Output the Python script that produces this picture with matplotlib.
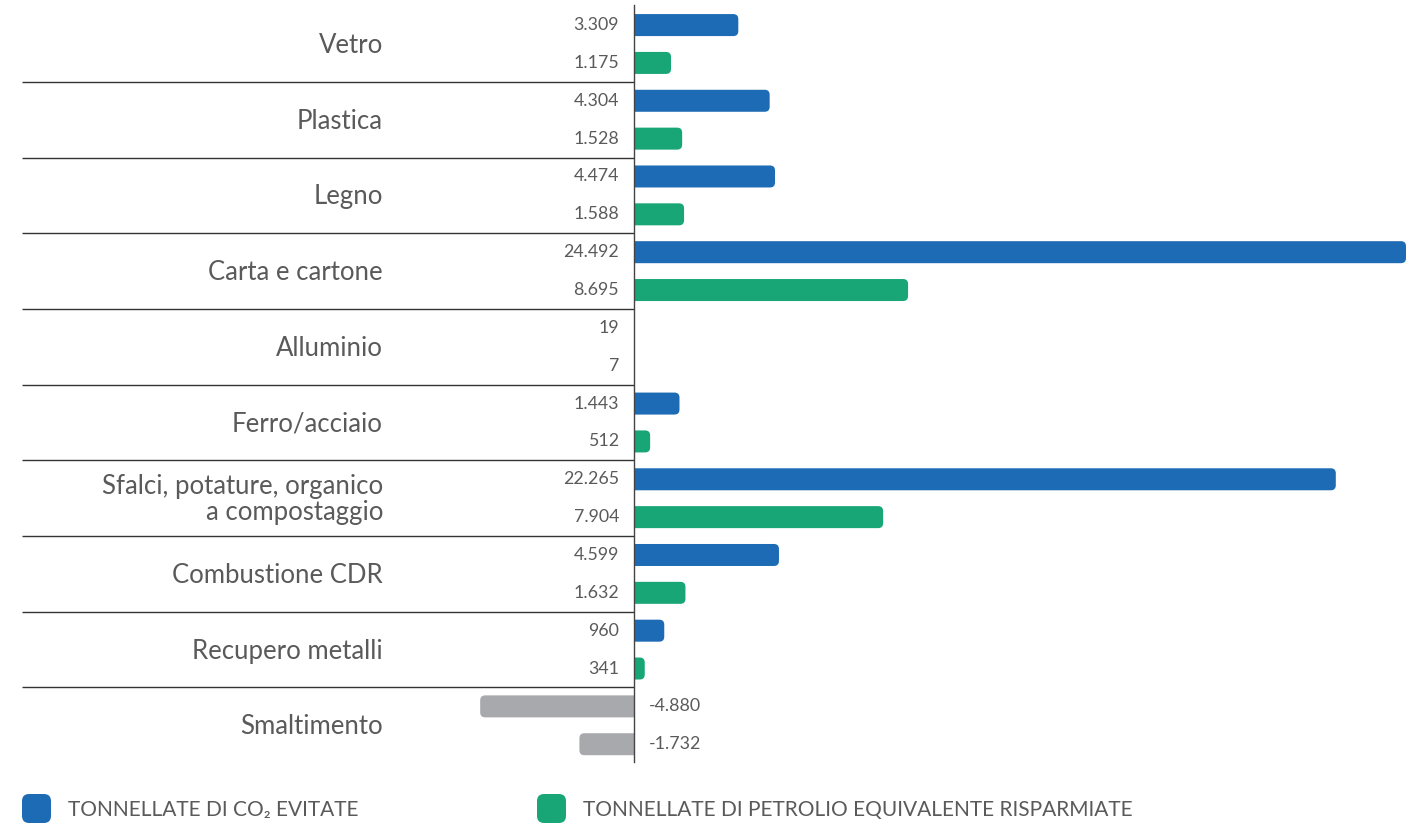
import matplotlib
matplotlib.use("Agg")
import matplotlib.pyplot as plt
from matplotlib.patches import FancyBboxPatch, Rectangle

categories = ["Vetro", "Plastica", "Legno", "Carta e cartone", "Alluminio",
              "Ferro/acciaio", "Sfalci, potature, organico\na compostaggio",
              "Combustione CDR", "Recupero metalli", "Smaltimento"]
co2_avoided = [3309, 4304, 4474, 24492, 19, 1443, 22265, 4599, 960, -4880]
oil_saved = [1175, 1528, 1588, 8695, 7, 512, 7904, 1632, 341, -1732]
legend_labels = ["TONNELLATE DI CO\u2082 EVITATE",
                 "TONNELLATE DI PETROLIO EQUIVALENTE RISPARMIATE"]

BLUE = "#1c6bb4"
GREEN = "#19a677"
GRAY = "#a8a9ac"
TEXT = "#5a5a5a"
W, H = 1423, 825
fig = plt.figure(figsize=(W / 100, H / 100), dpi=100)
ax = fig.add_axes([0, 0, 1, 1])
ax.set_axis_off()

k = 772 / 24492.0          # px per unit
cat_px = 75.7              # px per category
x0_px, y0_px = 634, 44
ax.set_xlim(-x0_px / k, (W - x0_px) / k)
ax.set_ylim((H - y0_px) / cat_px, -y0_px / cat_px)

fam = ["Lato", "DejaVu Sans"]
bar_h = 22 / cat_px
rad = 5 / k
aspect = (1 / cat_px) / (1 / k)
BIG = 1e6


def draw_bar(y, v, color):
    if abs(v) * k < 3:
        return
    w = abs(v)
    if v > 0:
        left = -rad
        clip = Rectangle((0, y - bar_h), BIG, 2 * bar_h, transform=ax.transData)
    else:
        left = v
        clip = Rectangle((-BIG, y - bar_h), BIG, 2 * bar_h, transform=ax.transData)
    p = FancyBboxPatch((left, y - bar_h / 2), w + rad, bar_h,
                       boxstyle=f"round,pad=0,rounding_size={min(rad, w / 2)}",
                       mutation_aspect=aspect, fc=color, ec="none", zorder=2)
    ax.add_patch(p)
    p.set_clip_path(clip)


lab_off = 15 / k
for i, (cat, a, b) in enumerate(zip(categories, co2_avoided, oil_saved)):
    ya, yb = i - 0.25, i + 0.25
    draw_bar(ya, a, BLUE if a >= 0 else GRAY)
    draw_bar(yb, b, GREEN if b >= 0 else GRAY)
    for y, v in ((ya, a), (yb, b)):
        s = f"{v:,}".replace(",", ".")
        if v >= 0:
            ax.text(-lab_off, y, s, ha="right", va="center", fontsize=12.8,
                    color=TEXT, family=fam)
        else:
            ax.text(lab_off, y, s, ha="left", va="center", fontsize=12.8,
                    color=TEXT, family=fam)
    ax.text((383 - x0_px) / k, i + 0.02, cat, ha="right", va="center", fontsize=18.5,
            color=TEXT, family=fam, linespacing=1.05)
    if i < len(categories) - 1:
        ax.plot([(22 - x0_px) / k, 0], [i + 0.5, i + 0.5], color="#333333",
                lw=1.0, zorder=1, solid_capstyle="butt")

ax.plot([0, 0], [(5 - y0_px) / cat_px, (762 - y0_px) / cat_px], color="#444444",
        lw=1.0, zorder=3)

# legend
for (xpx, col, lab) in ((22, BLUE, legend_labels[0]), (537, GREEN, legend_labels[1])):
    fig.patches.append(FancyBboxPatch((xpx / W, 2 / H), 29 / W, 29 / H,
                                      boxstyle="round,pad=0,rounding_size=0.005",
                                      mutation_aspect=W / H,
                                      transform=fig.transFigure, fc=col, ec="none"))
    fig.text((xpx + 46) / W, 15 / H, lab, ha="left", va="center", fontsize=15,
             color=TEXT, family=fam)

fig.savefig("out.png", dpi=100)
